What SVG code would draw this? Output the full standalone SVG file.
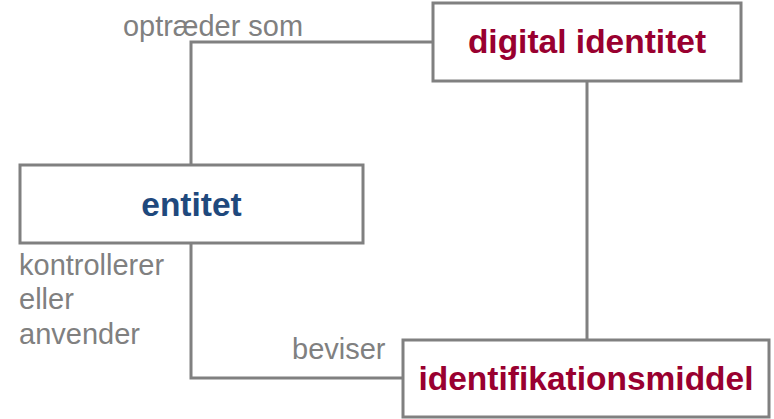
<svg xmlns="http://www.w3.org/2000/svg" width="774" height="419" viewBox="0 0 774 419">
<style>
.box{fill:#ffffff;stroke:#808080;stroke-width:3}
.conn{fill:none;stroke:#808080;stroke-width:3}
.title{font-family:"Liberation Sans",Arial,sans-serif;font-weight:bold;font-size:33.5px;text-anchor:middle}
.red{fill:#990030}
.blue{fill:#1F497D}
.lbl{font-family:"Liberation Sans",Arial,sans-serif;font-size:29px;fill:#808080}
</style>
<rect width="774" height="419" fill="#ffffff"/>
<g id="connectors">
<polyline class="conn" points="433,42 191,42 191,165"/>
<polyline class="conn" points="191,243 191,378 403,378"/>
<line class="conn" x1="587" y1="81" x2="587" y2="340"/>
</g>
<g id="labels">
<text class="lbl" x="123" y="36" font-size="26" textLength="180" lengthAdjust="spacingAndGlyphs">optræder som</text>
<text class="lbl" x="19" y="275">kontrollerer</text>
<text class="lbl" x="19" y="309">eller</text>
<text class="lbl" x="19" y="344">anvender</text>
<text class="lbl" x="292" y="359">beviser</text>
</g>
<g id="digital-identitet">
<rect class="box" x="433" y="3" width="308" height="78"/>
<text class="title red" x="587" y="53">digital identitet</text>
</g>
<g id="entitet">
<rect class="box" x="20" y="165" width="343" height="78"/>
<text class="title blue" x="191.5" y="216">entitet</text>
</g>
<g id="identifikationsmiddel">
<rect class="box" x="403" y="340" width="366" height="77"/>
<text class="title red" x="586" y="390">identifikationsmiddel</text>
</g>
</svg>
